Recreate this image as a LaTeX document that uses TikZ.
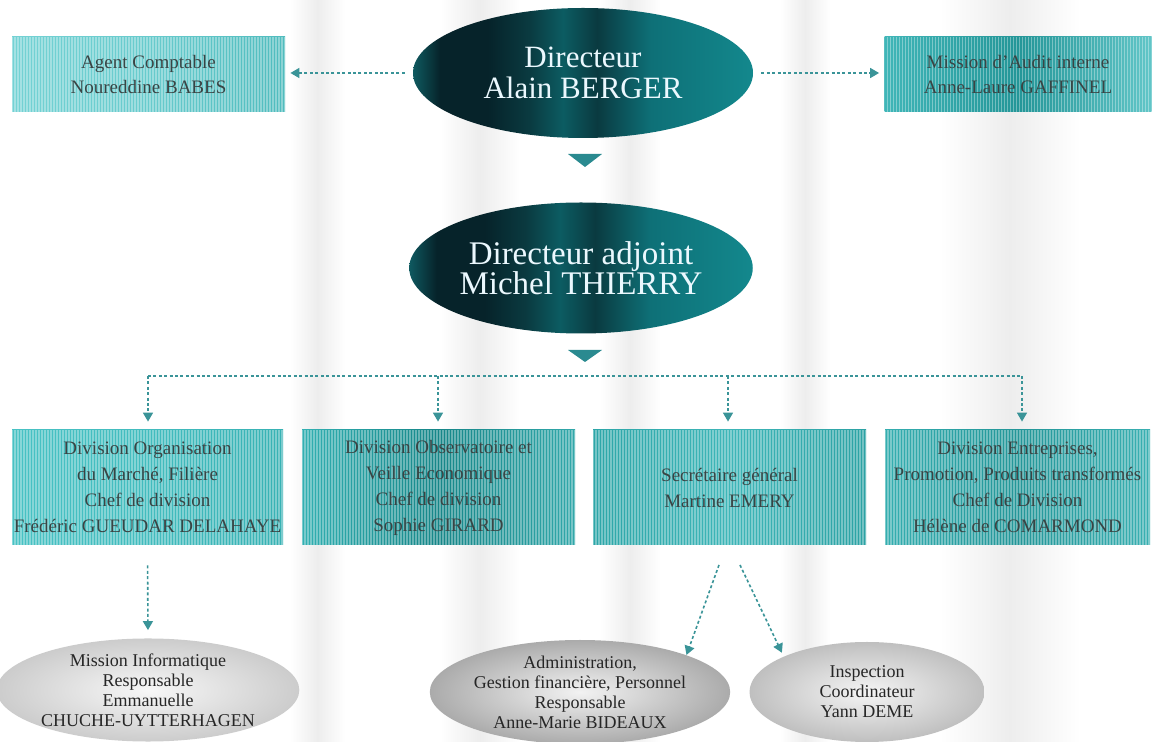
\documentclass[tikz,border=0pt]{standalone}
\usepackage{fontspec}
\setmainfont{Liberation Serif}
\usetikzlibrary{arrows.meta,shapes.geometric}
\definecolor{arrowc}{HTML}{3A9498}
\definecolor{boxtext}{HTML}{3A4444}
\definecolor{c0}{HTML}{0F5A60}
\definecolor{c1}{HTML}{06232A}
\definecolor{c2}{HTML}{0A3A40}
\definecolor{c3}{HTML}{0C5C62}
\definecolor{c4}{HTML}{0E7077}
\definecolor{c5}{HTML}{13888D}
\definecolor{tric}{HTML}{2A8A90}
\definecolor{agL}{HTML}{74D2D4}\definecolor{agM}{HTML}{68CBCD}\definecolor{agR}{HTML}{50BCBE}
\definecolor{miL}{HTML}{40B6B8}\definecolor{miM}{HTML}{249698}\definecolor{miR}{HTML}{62C6C8}
\definecolor{daL}{HTML}{48C2C4}\definecolor{daM}{HTML}{42BCBE}\definecolor{daR}{HTML}{38B2B4}
\definecolor{dbL}{HTML}{32B0B2}\definecolor{dbM}{HTML}{168688}\definecolor{dbR}{HTML}{32A8AA}
\definecolor{dcL}{HTML}{2DA6A8}\definecolor{dcM}{HTML}{3EB6B8}\definecolor{dcR}{HTML}{2CA2A4}
\definecolor{ddL}{HTML}{35AEB0}\definecolor{ddM}{HTML}{239698}\definecolor{ddR}{HTML}{3AB0B2}
\pgfdeclarehorizontalshading{dirshade}{100bp}{color(0bp)=(c0); color(25bp)=(c0); color(29bp)=(c1); color(36bp)=(c1); color(42bp)=(c2); color(47bp)=(c3); color(52bp)=(c2); color(60bp)=(c4); color(75bp)=(c5); color(100bp)=(c5)}
\tikzset{
  stripes/.style={path picture={
    \foreach \k in {0,...,95}{
      \draw[white,opacity=0.35,line width=0.6pt]
        ([xshift=\k*1.5pt]path picture bounding box.south west) --
        ([xshift=\k*1.5pt]path picture bounding box.north west);}}},
  tbox/.style={rectangle, inner sep=0pt, align=center, text=boxtext,
    font=\fontsize{9.5}{12.5}\selectfont, stripes},
  dbox/.style={tbox, minimum height=57.5pt, font=\fontsize{9.5}{13}\selectfont},
  direll/.style={ellipse, inner sep=0pt, align=center, shading=dirshade,
    text=white!92!cyan, font=\fontsize{15.5}{15.5}\selectfont},
  greyell/.style={ellipse, inner sep=0pt, align=center, text=black!85,
    font=\fontsize{9}{10}\selectfont},
  conn/.style={draw=arrowc, line width=0.8pt, dash pattern=on 1.5pt off 1.2pt,
    -{Triangle[width=5pt,length=4.5pt]}},
  busline/.style={draw=arrowc, line width=0.8pt, dash pattern=on 1.5pt off 1.2pt},
  band/.style={left color=white, right color=white, middle color=black!7}
}
\begin{document}
\begin{tikzpicture}[x=0.5pt,y=-0.5pt]
\useasboundingbox (0,0) rectangle (1158,742);
\fill[white] (0,0) rectangle (1158,742);
% faint vertical background bands
\fill[band] (290,0) rectangle (345,742);
\fill[band] (440,0) rectangle (520,742);
\fill[band] (600,0) rectangle (660,742);
\fill[band] (780,0) rectangle (830,742);
\fill[band] (940,0) rectangle (1080,742);

% top row
\node[tbox, minimum width=136.5pt, minimum height=37.5pt,
  left color=agL, right color=agR, middle color=agM]
  (agent) at (148.5,74.5) {Agent Comptable\\Noureddine BABES};
\node[tbox, minimum width=133.5pt, minimum height=37.5pt,
  left color=miL, right color=miR, middle color=miM]
  (mission) at (1018,74.5) {Mission d'Audit interne\\Anne-Laure GAFFINEL};

\node[direll, minimum width=170pt, minimum height=65pt] (dir) at (583,73)
  {Directeur\\Alain BERGER};
\node[direll, minimum width=169pt, minimum height=65.5pt,
  font=\fontsize{16.5}{15}\selectfont] (adj) at (581,268)
  {Directeur adjoint\\Michel THIERRY};

% small triangles
\fill[tric] (568,154) -- (602,154) -- (585,167) -- cycle;
\fill[tric] (568,350) -- (602,350) -- (585,362) -- cycle;

% division boxes
\node[dbox, minimum width=135.5pt,
  left color=daL, right color=daR, middle color=daM]
  (d1) at (147.5,487.5) {Division Organisation\\du March\'e, Fili\`ere\\Chef de division\\Fr\'ed\'eric GUEUDAR DELAHAYE};
\node[dbox, minimum width=136.5pt,
  left color=dbL, right color=dbR, middle color=dbM]
  (d2) at (438.5,487.5) {Division Observatoire et\\Veille Economique\\Chef de division\\Sophie GIRARD};
\node[dbox, minimum width=136.5pt,
  left color=dcL, right color=dcR, middle color=dcM]
  (d3) at (729.5,487.5) {Secr\'etaire g\'en\'eral\\Martine EMERY};
\node[dbox, minimum width=132.5pt,
  left color=ddL, right color=ddR, middle color=ddM]
  (d4) at (1017.5,487.5) {Division Entreprises,\\Promotion, Produits transform\'es\\Chef de Division\\H\'el\`ene de COMARMOND};

% bottom ellipses
\node[greyell, minimum width=140pt, minimum height=48pt,
  inner color=white!97!black, outer color=black!20] (info) at (148,690)
  {Mission Informatique\\Responsable\\Emmanuelle\\CHUCHE-UYTTERHAGEN};
\node[greyell, minimum width=141pt, minimum height=52pt,
  inner color=white!95!black, outer color=black!33] (admin) at (580,692)
  {Administration,\\Gestion financi\`ere, Personnel\\Responsable\\Anne-Marie BIDEAUX};
\node[greyell, minimum width=117.5pt, minimum height=50pt,
  inner color=white!96!black, outer color=black!25] (insp) at (867,692)
  {Inspection\\Coordinateur\\Yann DEME};

% connectors
\draw[conn, shorten <=4pt, shorten >=2.5pt] (dir.west) -- (dir.west -| agent.east);
\draw[conn, shorten <=4pt, shorten >=2.5pt] (dir.east) -- (dir.east -| mission.west);

\coordinate (b1) at (148,376);
\coordinate (b2) at (438,376);
\coordinate (b3) at (728,376);
\coordinate (b4) at (1022,376);
\draw[busline] (b1) -- (b4);
\draw[conn, shorten >=4pt] (b1) -- (b1 |- d1.north);
\draw[conn, shorten >=4pt] (b2) -- (b2 |- d2.north);
\draw[conn, shorten >=4pt] (b3) -- (b3 |- d3.north);
\draw[conn, shorten >=4pt] (b4) -- (b4 |- d4.north);

\draw[conn, shorten <=10pt, shorten >=4pt] (d1.south) -- (info.north);
\coordinate (s1) at (719,565);
\coordinate (s2) at (740,565);
\draw[conn] (s1) -- (admin.north east);
\draw[conn, shorten >=2pt] (s2) -- (insp.north west);
\end{tikzpicture}
\end{document}
